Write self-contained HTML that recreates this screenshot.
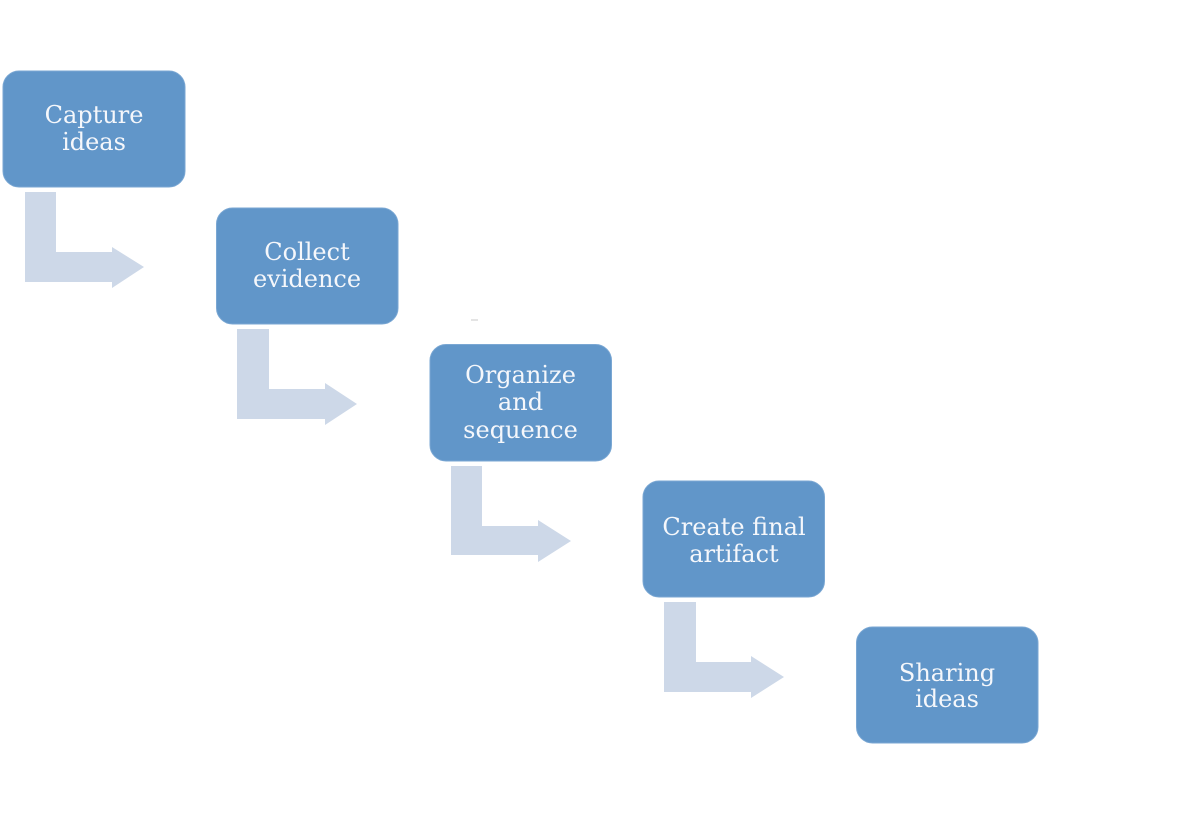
<!DOCTYPE html>
<html>
<head>
<meta charset="utf-8">
<style>
html,body{margin:0;padding:0;background:#fff;}
svg{display:block;}
text{font-family:"DejaVu Serif","Liberation Serif",serif;font-size:24px;fill:#f5f7fb;text-anchor:middle;}
</style>
</head>
<body>
<svg width="1179" height="824" viewBox="0 0 1179 824" xmlns="http://www.w3.org/2000/svg">
  <g fill="#cdd8e8">
    <!-- arrow 1 -->
    <path d="M25 192 H56 V252 H112 V247 L144 267 L112 288 V282 H25 Z"/>
    <!-- arrow 2 -->
    <path d="M237 329 H269 V389 H325 V383 L357 404 L325 425 V419 H237 Z"/>
    <!-- arrow 3 -->
    <path d="M451 466 H482 V526 H538 V520 L571 541 L538 562 V555 H451 Z"/>
    <!-- arrow 4 -->
    <path d="M664 602 H696 V662 H751 V656 L784 677 L751 698 V692 H664 Z"/>
  </g>
  <g fill="#6196c9" stroke="#7aa7d3" stroke-width="1">
    <rect x="3" y="71" width="182" height="116" rx="16" ry="16"/>
    <rect x="216.5" y="208" width="181.5" height="116" rx="16" ry="16"/>
    <rect x="430" y="344.5" width="181.5" height="116.5" rx="16" ry="16"/>
    <rect x="643" y="481" width="181.5" height="116" rx="16" ry="16"/>
    <rect x="856.5" y="627" width="181.5" height="116" rx="16" ry="16"/>
  </g>
  <line x1="471" y1="320" x2="478" y2="320" stroke="#c8c8c8" stroke-width="1"/>
  <text x="94" y="123">Capture</text>
  <text x="94" y="150">ideas</text>
  <text x="307" y="260">Collect</text>
  <text x="307" y="287">evidence</text>
  <text x="520.5" y="383">Organize</text>
  <text x="520.5" y="410">and</text>
  <text x="520.5" y="438">sequence</text>
  <text x="734" y="535">Create final</text>
  <text x="734" y="562">artifact</text>
  <text x="947" y="681">Sharing</text>
  <text x="947" y="707">ideas</text>
</svg>
</body>
</html>
